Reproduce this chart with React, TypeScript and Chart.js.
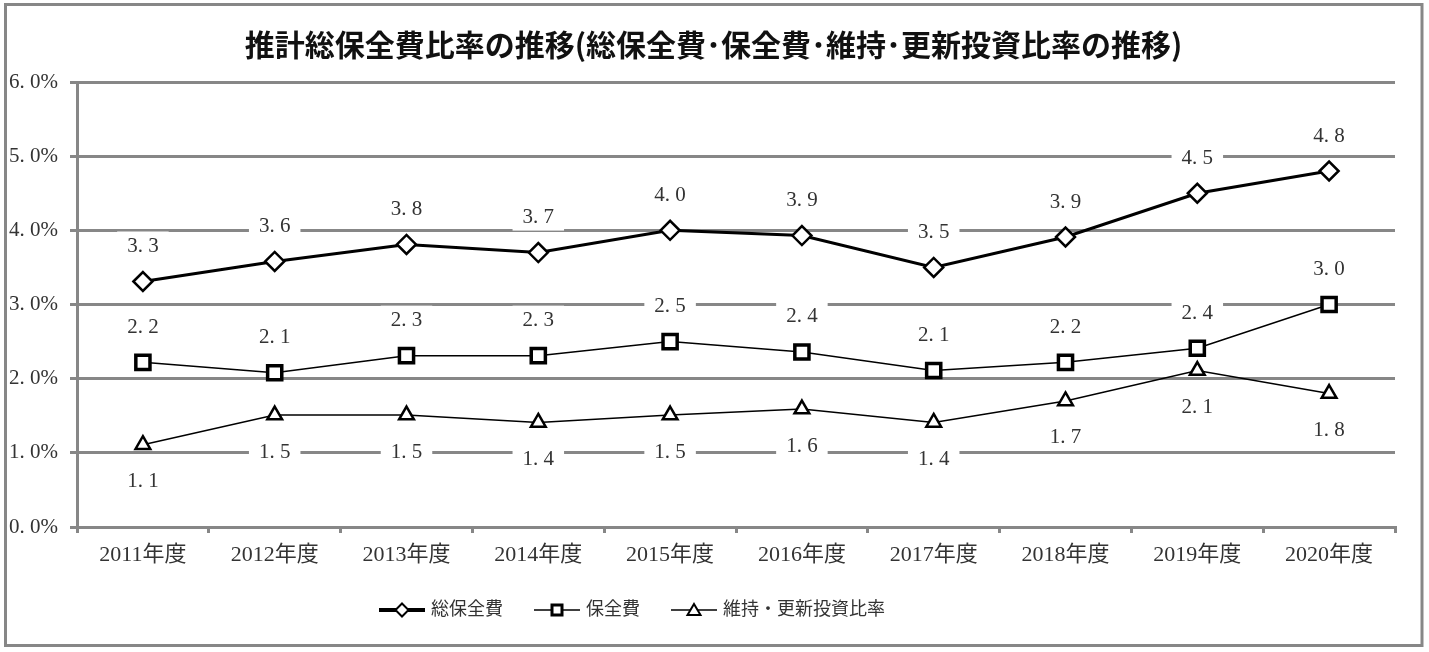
import React, { useEffect, useRef } from 'react';
import { Chart, registerables } from 'chart.js';

Chart.register(...registerables);

const categories = ['2011年度', '2012年度', '2013年度', '2014年度', '2015年度', '2016年度', '2017年度', '2018年度', '2019年度', '2020年度'];
const totalMaintenance = [3.31, 3.58, 3.81, 3.7, 4.0, 3.93, 3.5, 3.91, 4.5, 4.8];
const maintenance = [2.22, 2.08, 2.31, 2.31, 2.5, 2.36, 2.11, 2.22, 2.41, 3.0];
const renewalRatio = [1.11, 1.51, 1.51, 1.41, 1.51, 1.59, 1.41, 1.7, 2.11, 1.8];
const seriesNames = ['総保全費', '保全費', '維持・更新投資比率'];
const yMin = 0;
const yMax = 6;
const yStep = 1;
const titleText = '推計総保全費比率の推移(総保全費･保全費･維持･更新投資比率の推移)';

const GRID = '#878787';
const TEXT = '#333333';
const SERIF = '"Liberation Serif", "DejaVu Serif", "Noto Sans CJK JP", serif';
const fmt = (v: number) => v.toFixed(1).replace('.', '. ');

function legendImage(kind: string, lineWidth: number): HTMLCanvasElement {
  const c = document.createElement('canvas');
  c.width = 46;
  c.height = 20;
  const g = c.getContext('2d')!;
  g.strokeStyle = '#000';
  g.lineWidth = lineWidth;
  g.beginPath();
  g.moveTo(0, 10);
  g.lineTo(46, 10);
  g.stroke();
  g.fillStyle = '#fff';
  g.beginPath();
  if (kind === 'diamond') {
    g.moveTo(23, 3.5);
    g.lineTo(29.5, 10);
    g.lineTo(23, 16.5);
    g.lineTo(16.5, 10);
    g.closePath();
    g.lineWidth = 2;
  } else if (kind === 'square') {
    g.rect(18, 5, 10, 10);
    g.lineWidth = 3;
  } else {
    g.moveTo(23, 4);
    g.lineTo(29.5, 15);
    g.lineTo(16.5, 15);
    g.closePath();
    g.lineWidth = 2;
  }
  g.fill();
  g.stroke();
  return c;
}

const framePlugin = {
  id: 'frame',
  beforeDraw(chart: any) {
    const ctx = chart.ctx;
    ctx.save();
    ctx.fillStyle = '#fff';
    ctx.fillRect(0, 0, chart.width, chart.height);
    ctx.strokeStyle = GRID;
    ctx.lineWidth = 3;
    ctx.strokeRect(5.5, 4.5, 1416.5, 641);
    ctx.restore();
  },
};

const boxShiftPlugin = {
  id: 'boxShift',
  afterLayout(chart: any) {
    if (chart.legend) {
      chart.legend.left -= 64;
      chart.legend.right -= 64;
    }
    if (chart.titleBlock) {
      chart.titleBlock.left += 16;
      chart.titleBlock.right += 16;
    }
  },
};

const valueLabelPlugin = {
  id: 'valueLabels',
  afterDatasetsDraw(chart: any) {
    const ctx = chart.ctx;
    ctx.save();
    ctx.font = `21px ${SERIF}`;
    ctx.textAlign = 'center';
    ctx.textBaseline = 'middle';
    chart.data.datasets.forEach((ds: any, di: number) => {
      const meta = chart.getDatasetMeta(di);
      const off = ds.labelOffset as number;
      meta.data.forEach((pt: any, i: number) => {
        const text = fmt(ds.data[i]);
        const x = pt.x;
        const y = pt.y + off;
        const w = ctx.measureText(text).width + 20;
        ctx.fillStyle = '#fff';
        ctx.fillRect(x - w / 2, y - 14, w, 28);
        ctx.fillStyle = TEXT;
        ctx.fillText(text, x, y + 1);
      });
    });
    ctx.restore();
  },
};

export default function App() {
  const ref = useRef<HTMLCanvasElement>(null);

  useEffect(() => {
    if (!ref.current) return;
    const images = [legendImage('diamond', 4), legendImage('square', 1.5), legendImage('triangle', 1.5)];
    const chart = new Chart(ref.current, {
      type: 'line',
      data: {
        labels: categories,
        datasets: [
          {
            label: seriesNames[0],
            data: totalMaintenance,
            borderColor: '#000',
            borderWidth: 3,
            pointStyle: 'rectRot',
            pointRadius: 9.5,
            pointBorderWidth: 2.5,
            pointBackgroundColor: '#fff',
            pointBorderColor: '#000',
            labelOffset: -36,
          } as any,
          {
            label: seriesNames[1],
            data: maintenance,
            borderColor: '#000',
            borderWidth: 1.5,
            pointStyle: 'rect',
            pointRadius: 10,
            pointBorderWidth: 3.5,
            pointBackgroundColor: '#fff',
            pointBorderColor: '#000',
            labelOffset: -36,
          } as any,
          {
            label: seriesNames[2],
            data: renewalRatio,
            borderColor: '#000',
            borderWidth: 1.5,
            pointStyle: 'triangle',
            pointRadius: 8.5,
            pointBorderWidth: 2.5,
            pointBackgroundColor: '#fff',
            pointBorderColor: '#000',
            labelOffset: 36,
          } as any,
        ],
      },
      options: {
        responsive: false,
        maintainAspectRatio: false,
        animation: false,
        layout: { padding: { top: 0, left: 0, right: 34, bottom: 23 } },
        plugins: {
          title: {
            display: true,
            text: titleText,
            color: '#111',
            font: { family: '"Noto Sans CJK JP", sans-serif', size: 30, weight: 'bold' },
            padding: { top: 27, bottom: 19 },
          },
          legend: {
            position: 'bottom',
            labels: {
              usePointStyle: true,
              pointStyleWidth: 40,
              padding: 34,
              color: TEXT,
              font: { family: SERIF, size: 18 },
              generateLabels: (c: any) =>
                c.data.datasets.map((ds: any, i: number) => ({
                  text: ds.label,
                  pointStyle: images[i],
                  datasetIndex: i,
                  hidden: false,
                  fontColor: TEXT,
                  lineWidth: 0,
                  strokeStyle: 'rgba(0,0,0,0)',
                  fillStyle: 'rgba(0,0,0,0)',
                })),
            },
          },
          tooltip: { enabled: false },
        },
        scales: {
          x: {
            type: 'category',
            offset: true,
            grid: {
              offset: true,
              drawOnChartArea: false,
              drawTicks: true,
              tickLength: 6,
              lineWidth: 3,
              color: GRID,
            },
            border: { display: true, width: 3, color: GRID },
            ticks: { color: TEXT, font: { family: SERIF, size: 22 }, padding: 9, maxRotation: 0, autoSkip: false },
            afterFit: (s: any) => {
              s.height = 40;
            },
          },
          y: {
            min: yMin,
            max: yMax,
            grid: { color: GRID, lineWidth: 3, tickLength: 7, drawTicks: true },
            border: { display: true, width: 3, color: GRID },
            ticks: {
              stepSize: yStep,
              color: TEXT,
              font: { family: SERIF, size: 21 },
              padding: 12,
              callback: (v: any) => `${fmt(Number(v))}%`,
            },
            afterFit: (s: any) => {
              s.width = 77;
            },
          },
        },
      },
      plugins: [framePlugin, boxShiftPlugin, valueLabelPlugin],
    });
    return () => chart.destroy();
  }, []);

  return (
    <div style={{ width: 1429, height: 652, position: 'relative' }}>
      <style>{'body{margin:0}'}</style>
      <canvas ref={ref} width={1429} height={652} style={{ display: 'block' }} />
    </div>
  );
}
